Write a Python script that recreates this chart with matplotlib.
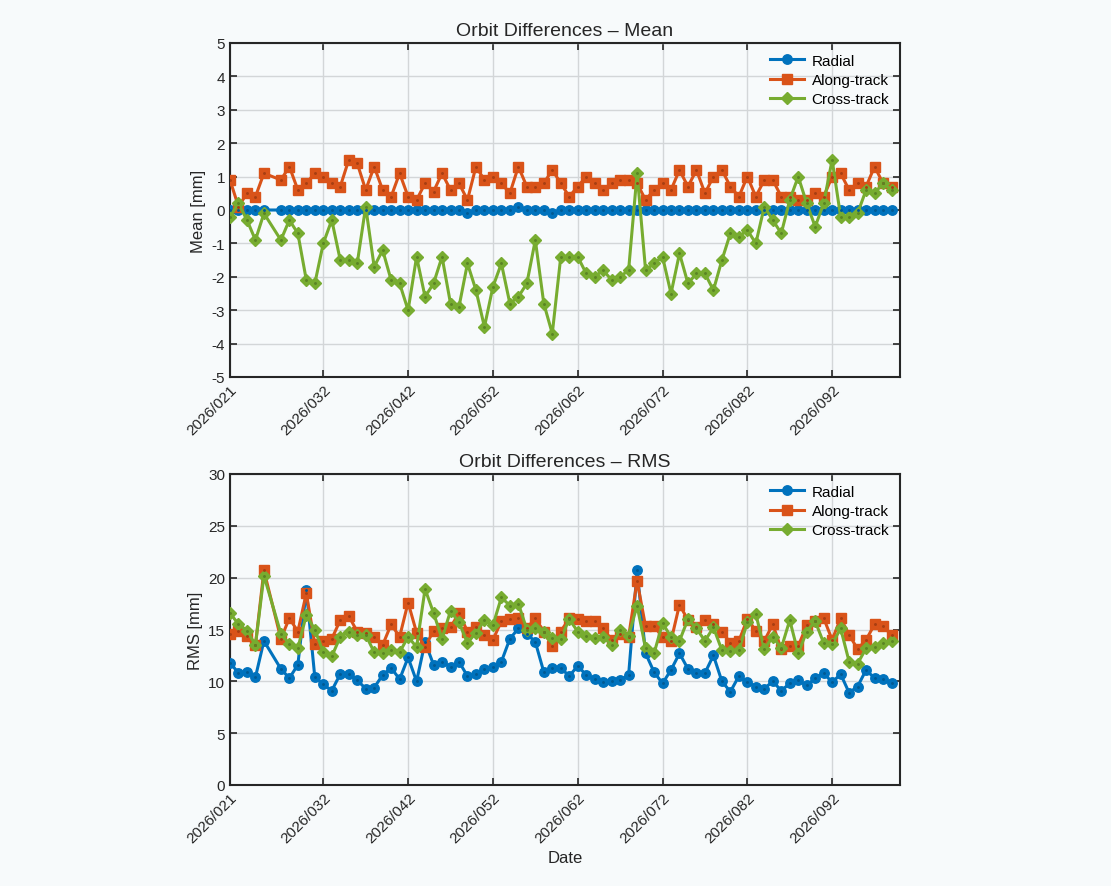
import numpy as np
import matplotlib.pyplot as plt

# day of year 2026 (day 26 missing)
days = [21, 22, 23, 24, 25] + list(range(27, 100))

mean_radial = [0.0] * 78
mean_radial[days.index(49)] = -0.1
mean_radial[days.index(55)] = 0.1
mean_radial[days.index(59)] = -0.1

mean_along = [0.9, 0.1, 0.5, 0.4, 1.1, 0.9, 1.3, 0.6, 0.8, 1.1,
              1.0, 0.8, 0.7, 1.5, 1.4, 0.6, 1.3, 0.6, 0.4, 1.1,
              0.4, 0.3, 0.8, 0.55, 1.1, 0.6, 0.8, 0.3, 1.3, 0.9,
              1.0, 0.8, 0.5, 1.3, 0.7, 0.7, 0.8, 1.2, 0.8, 0.4,
              0.7, 1.0, 0.8, 0.6, 0.8, 0.9, 0.9, 0.8, 0.3, 0.6,
              0.8, 0.6, 1.2, 0.7, 1.2, 0.5, 1.0, 1.2, 0.7, 0.4,
              1.0, 0.4, 0.9, 0.9, 0.4, 0.4, 0.3, 0.3, 0.5, 0.4,
              1.0, 1.1, 0.6, 0.8, 0.7, 1.3, 0.8, 0.7]

mean_cross = [-0.2, 0.2, -0.3, -0.9, -0.1, -0.9, -0.3, -0.7, -2.1, -2.2,
              -1.0, -0.3, -1.5, -1.5, -1.6, 0.1, -1.7, -1.2, -2.1, -2.2,
              -3.0, -1.4, -2.6, -2.2, -1.4, -2.8, -2.9, -1.6, -2.4, -3.5,
              -2.3, -1.6, -2.8, -2.6, -2.2, -0.9, -2.8, -3.7, -1.4, -1.4,
              -1.4, -1.9, -2.0, -1.8, -2.1, -2.0, -1.8, 1.1, -1.8, -1.6,
              -1.4, -2.5, -1.3, -2.2, -1.9, -1.9, -2.4, -1.5, -0.7, -0.8,
              -0.6, -1.0, 0.1, -0.3, -0.7, 0.3, 1.0, 0.2, -0.5, 0.2,
              1.5, -0.2, -0.2, -0.1, 0.6, 0.5, 0.8, 0.6]

rms_radial = [11.8, 10.8, 10.9, 10.4, 13.9, 11.2, 10.3, 11.6, 18.8, 10.4,
              9.7, 9.1, 10.7, 10.7, 10.1, 9.3, 9.4, 10.6, 11.3, 10.2,
              12.3, 10.0, 13.8, 11.6, 11.9, 11.4, 11.9, 10.5, 10.7, 11.2,
              11.4, 11.9, 14.1, 15.1, 14.6, 13.8, 10.9, 11.3, 11.3, 10.5,
              11.5, 10.6, 10.2, 9.9, 10.0, 10.1, 10.6, 20.7, 12.7, 10.9,
              9.8, 11.1, 12.7, 11.2, 10.8, 10.8, 12.5, 10.0, 9.0, 10.5,
              9.9, 9.5, 9.3, 10.0, 9.1, 9.8, 10.1, 9.6, 10.3, 10.8,
              9.9, 10.7, 8.9, 9.5, 11.1, 10.3, 10.2, 9.8]

rms_along = [14.6, 14.9, 14.4, 13.5, 20.7, 14.1, 16.1, 14.8, 18.5, 13.6,
             13.9, 14.1, 15.9, 16.3, 14.8, 14.7, 14.3, 13.5, 15.5, 14.3,
             17.6, 14.7, 13.3, 14.9, 15.1, 15.2, 16.6, 14.8, 15.2, 14.5,
             14.0, 15.8, 16.0, 16.1, 15.1, 16.1, 14.8, 13.4, 14.8, 16.1,
             16.0, 15.8, 15.8, 15.1, 14.0, 14.6, 14.3, 19.7, 15.3, 15.3,
             14.3, 13.9, 17.4, 15.9, 15.2, 15.9, 15.5, 14.8, 13.7, 13.9,
             16.0, 14.9, 13.9, 15.5, 13.1, 13.4, 13.4, 15.4, 15.8, 16.1,
             14.0, 16.1, 14.5, 13.1, 14.0, 15.5, 15.3, 14.5]

rms_cross = [16.6, 15.5, 14.9, 13.5, 20.2, 14.6, 13.6, 13.2, 16.4, 15.0,
             12.8, 12.4, 14.3, 14.8, 14.5, 14.5, 12.8, 12.7, 13.0, 12.8,
             14.3, 13.3, 18.9, 16.6, 14.1, 16.8, 15.7, 13.7, 14.7, 15.9,
             15.4, 18.1, 17.3, 17.5, 15.0, 15.1, 14.8, 14.2, 14.1, 16.0,
             14.8, 14.4, 14.2, 14.3, 13.5, 15.0, 14.4, 17.3, 13.2, 12.7,
             15.6, 14.3, 13.9, 16.0, 15.1, 13.9, 15.2, 13.0, 12.9, 13.0,
             15.7, 16.5, 13.1, 14.3, 13.2, 15.9, 12.7, 14.8, 15.8, 13.7,
             13.6, 15.1, 11.9, 11.7, 13.2, 13.3, 13.7, 13.9]

tick_days = [21, 32, 42, 52, 62, 72, 82, 92]
tick_labels = ['2026/%03d' % d for d in tick_days]

colors = ['#0072BD', '#D95319', '#77AC30']
dark = ['#005a94', '#a83e12', '#5a8424']
markers = ['o', 's', 'D']
names = ['Radial', 'Along-track', 'Cross-track']
bg = '#f7fafb'

plt.rcParams['font.family'] = ['Liberation Sans', 'DejaVu Sans']
plt.rcParams['axes.unicode_minus'] = False

fig = plt.figure(figsize=(11.11, 8.87), dpi=100, facecolor=bg)
ax1 = fig.add_axes([230 / 1111, 1 - 378 / 887, 670 / 1111, 334 / 887])
ax2 = fig.add_axes([230 / 1111, 1 - 786 / 887, 670 / 1111, 311 / 887])


def draw(ax, series, title, ylabel, ylim, yticks):
    ax.set_facecolor(bg)
    for s, c, dk, m, n in zip(series, colors, dark, markers, names):
        ms = 6.8 if m != 'D' else 6.2
        ax.plot(days, s, color=c, marker=m, markersize=ms, linewidth=2.2,
                markeredgecolor=c, label=n, zorder=3)
        ax.plot(days, s, linestyle='none', marker='.', markersize=2.2,
                color=dk, zorder=4)
    ax.set_xlim(21, 100)
    ax.set_ylim(*ylim)
    ax.set_yticks(yticks)
    ax.set_xticks(tick_days)
    ax.set_xticklabels(tick_labels, rotation=45, ha='right',
                       rotation_mode='anchor')
    ax.grid(True, color='#d3d6d8', linewidth=1)
    ax.set_axisbelow(True)
    ax.tick_params(direction='in', top=True, right=True, length=5,
                   width=1.2, labelsize=11, colors='#262626')
    for sp in ax.spines.values():
        sp.set_linewidth(1.5)
        sp.set_color('#262626')
    ax.set_title(title, fontsize=14, color='#262626', pad=6)
    ax.set_ylabel(ylabel, fontsize=12, color='#262626')
    ax.legend(loc='upper right', frameon=False, fontsize=11,
              handlelength=2.2, borderaxespad=0.3, labelspacing=0.35,
              handletextpad=0.5)


draw(ax1, [mean_radial, mean_along, mean_cross], 'Orbit Differences \u2013 Mean',
     'Mean [mm]', (-5, 5), range(-5, 6))
draw(ax2, [rms_radial, rms_along, rms_cross], 'Orbit Differences \u2013 RMS',
     'RMS [mm]', (0, 30), range(0, 31, 5))
ax2.set_xlabel('Date', fontsize=12, color='#262626')

fig.savefig('out.png', dpi=100, facecolor=bg)
